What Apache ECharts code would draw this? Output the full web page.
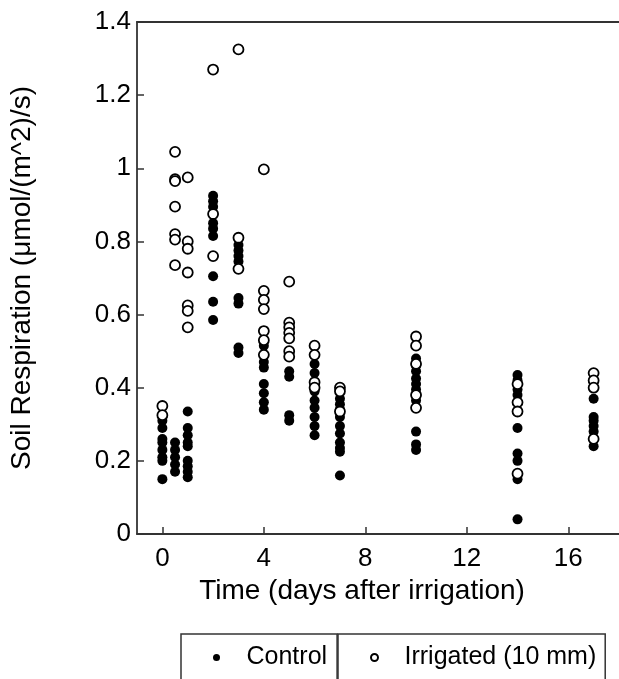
<!DOCTYPE html>
<html>
<head>
<meta charset="utf-8">
<script src="https://cdn.jsdelivr.net/npm/echarts@6/dist/echarts.min.js"></script>
<style>
  html, body { margin: 0; padding: 0; background: #fff; }
  #chart { width: 619px; height: 679px; }
</style>
</head>
<body>
<div id="chart"></div>
<script>
// measurement days (days after irrigation)
const days = [0, 0.5, 1, 2, 3, 4, 5, 6, 7, 10, 14, 17];

// soil respiration per day, control plots
const controlValues = [
  [0.31, 0.29, 0.26, 0.25, 0.23, 0.21, 0.2, 0.15],
  [0.25, 0.23, 0.21, 0.19, 0.17],
  [0.335, 0.29, 0.27, 0.25, 0.24, 0.2, 0.185, 0.17, 0.155],
  [0.925, 0.91, 0.895, 0.85, 0.835, 0.815, 0.705, 0.635, 0.585],
  [0.79, 0.775, 0.76, 0.745, 0.645, 0.63, 0.51, 0.495],
  [0.515, 0.47, 0.455, 0.41, 0.385, 0.36, 0.34],
  [0.445, 0.43, 0.325, 0.31],
  [0.465, 0.44, 0.39, 0.365, 0.345, 0.32, 0.295, 0.27],
  [0.37, 0.355, 0.34, 0.32, 0.295, 0.275, 0.25, 0.235, 0.225, 0.16],
  [0.48, 0.46, 0.445, 0.425, 0.41, 0.395, 0.365, 0.28, 0.245, 0.23],
  [0.435, 0.42, 0.395, 0.38, 0.29, 0.22, 0.2, 0.15, 0.04],
  [0.415, 0.37, 0.32, 0.31, 0.295, 0.28, 0.24]
];

// soil respiration per day, irrigated plots (10 mm)
const irrigatedValues = [
  [0.35, 0.325],
  [1.045, 0.97, 0.965, 0.895, 0.82, 0.805, 0.735],
  [0.975, 0.8, 0.78, 0.715, 0.625, 0.61, 0.565],
  [1.27, 0.875, 0.76],
  [1.325, 0.81, 0.725],
  [0.997, 0.665, 0.64, 0.615, 0.555, 0.53, 0.49],
  [0.69, 0.578, 0.565, 0.55, 0.535, 0.5, 0.485],
  [0.515, 0.49, 0.415, 0.4],
  [0.4, 0.39, 0.335],
  [0.54, 0.515, 0.465, 0.38, 0.345],
  [0.41, 0.36, 0.335, 0.165],
  [0.44, 0.42, 0.4, 0.26]
];

const xTicks = [0, 4, 8, 12, 16];

function toPoints(values) {
  const pts = [];
  values.forEach((list, i) => {
    list.forEach((v) => pts.push([days[i], v]));
  });
  return pts;
}

const font = "'Liberation Sans', Arial, sans-serif";
const axisColor = "#333";

const myChart = echarts.init(document.getElementById("chart"));
const option = {
  animation: false,
  grid: {
    left: 137,
    top: 22,
    right: -2,
    bottom: 145,
  },
  legend: [
    {
      data: ["Control"],
      left: 181,
      top: 634,
      padding: [11, 10, 30, 32],
      itemWidth: 50,
      itemHeight: 7,
      borderColor: axisColor,
      borderWidth: 1.5,
      textStyle: { fontFamily: font, fontSize: 25, color: "#000" },
    },
    {
      data: ["Irrigated (10 mm)"],
      left: 338,
      top: 634,
      padding: [11, 9, 30, 32],
      itemWidth: 50,
      itemHeight: 7,
      borderColor: axisColor,
      borderWidth: 1.5,
      textStyle: { fontFamily: font, fontSize: 25, color: "#000" },
    },
  ],
  xAxis: [
    {
      type: "value",
      min: -1,
      max: 18,
      name: "Time (days after irrigation)",
      nameLocation: "middle",
      nameGap: 37,
      nameTextStyle: {
        fontFamily: font,
        fontSize: 28,
        color: "#000",
        padding: [0, 32, 0, 0],
      },
      axisLine: { onZero: false, lineStyle: { color: axisColor, width: 1.8 } },
      axisTick: {
        inside: true,
        length: 7,
        customValues: xTicks,
        lineStyle: { color: axisColor, width: 1.5 },
      },
      axisLabel: {
        customValues: xTicks,
        margin: 12,
        fontFamily: font,
        fontSize: 26,
        color: "#000",
      },
      splitLine: { show: false },
    },
    {
      type: "value",
      position: "top",
      min: -1,
      max: 18,
      axisLine: { show: true, onZero: false, lineStyle: { color: axisColor, width: 1.8 } },
      axisTick: { show: false },
      axisLabel: { show: false },
      splitLine: { show: false },
    },
  ],
  yAxis: {
    type: "value",
    min: 0,
    max: 1.4,
    interval: 0.2,
    name: "Soil Respiration (\u03bcmol/(m^2)/s)",
    nameLocation: "middle",
    nameGap: 101,
    nameTextStyle: { fontFamily: font, fontSize: 28, color: "#000" },
    axisLine: { show: true, onZero: false, lineStyle: { color: axisColor, width: 1.8 } },
    axisTick: {
      show: true,
      inside: true,
      length: 7,
      lineStyle: { color: axisColor, width: 1.5 },
    },
    axisLabel: {
      margin: 6,
      fontFamily: font,
      fontSize: 26,
      color: "#000",
      formatter: (v) => String(Math.round(v * 10) / 10),
    },
    splitLine: { show: false },
  },
  series: [
    {
      name: "Control",
      type: "scatter",
      symbol: "circle",
      symbolSize: 10,
      itemStyle: { color: "#000", opacity: 1 },
      data: toPoints(controlValues),
    },
    {
      name: "Irrigated (10 mm)",
      type: "scatter",
      symbol: "circle",
      symbolSize: 10,
      itemStyle: { color: "#fff", borderColor: "#000", borderWidth: 1.8, opacity: 1 },
      data: toPoints(irrigatedValues),
    },
  ],
};
myChart.setOption(option);
</script>
</body>
</html>
